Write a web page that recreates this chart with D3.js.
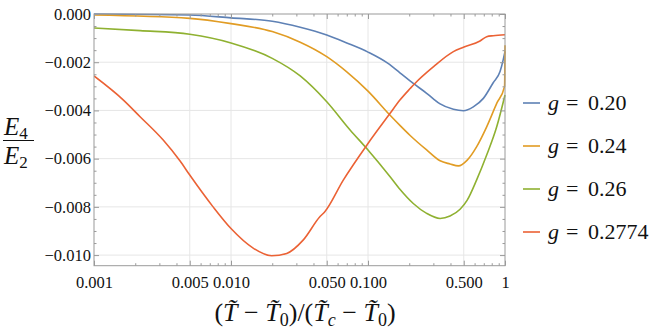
<!DOCTYPE html>
<html>
<head>
<meta charset="utf-8">
<script src="https://cdn.jsdelivr.net/npm/d3@7"></script>
<style>
	body { margin: 0; background: #fff; }
</style>
</head>
<body>
<svg id="chart" width="664" height="335"></svg>
<script>
// values, one x/y pair of arrays per curve
var tG020 = [0.001, 0.005, 0.01, 0.02, 0.032, 0.05, 0.07, 0.1, 0.14, 0.171, 0.214, 0.268, 0.3, 0.336, 0.42, 0.497, 0.587, 0.695, 0.82, 0.92, 0.97, 1.0];
var eG020 = [0, -0.00004, -0.00016, -0.0003, -0.00055, -0.00087, -0.0012, -0.00158, -0.00205, -0.00244, -0.00288, -0.00329, -0.00352, -0.00373, -0.00395, -0.00401, -0.00385, -0.0035, -0.00285, -0.00239, -0.0019, -0.00155];

var tG024 = [0.001, 0.005, 0.01, 0.02, 0.032, 0.05, 0.07, 0.1, 0.145, 0.171, 0.204, 0.268, 0.336, 0.397, 0.457, 0.53, 0.62, 0.735, 0.87, 0.993, 1.0];
var eG024 = [-0.00004, -0.00018, -0.0004, -0.00073, -0.00117, -0.00177, -0.0024, -0.0032, -0.0042, -0.00462, -0.00505, -0.00564, -0.00609, -0.00622, -0.0063, -0.00606, -0.00551, -0.00468, -0.00371, -0.003, -0.0013];

var tG026 = [0.001, 0.00217, 0.005, 0.01, 0.02, 0.032, 0.05, 0.074, 0.1, 0.145, 0.171, 0.214, 0.268, 0.336, 0.397, 0.47, 0.53, 0.62, 0.735, 0.87, 1.0];
var eG026 = [-0.00058, -0.00069, -0.00084, -0.0012, -0.00184, -0.00257, -0.00364, -0.00481, -0.00564, -0.00675, -0.00727, -0.00786, -0.00827, -0.00848, -0.00838, -0.0081, -0.00772, -0.00689, -0.00585, -0.00468, -0.00336];

var tG2774 = [0.001, 0.00164, 0.00217, 0.0032, 0.00425, 0.005, 0.0074, 0.01, 0.0146, 0.0198, 0.0255, 0.0336, 0.0445, 0.0484, 0.066, 0.1, 0.145, 0.171, 0.204, 0.22, 0.3, 0.42, 0.497, 0.657, 0.735, 0.82, 1.0];
var eG2774 = [-0.00257, -0.00357, -0.00426, -0.00523, -0.0061, -0.00668, -0.008, -0.0089, -0.00972, -0.01003, -0.00993, -0.00938, -0.00841, -0.0082, -0.00689, -0.00537, -0.00412, -0.00357, -0.00308, -0.00288, -0.00219, -0.00156, -0.00138, -0.00112, -0.00094, -0.0009, -0.00086];

var gLabels = ["0.20", "0.24", "0.26", "0.2774"];
var lineColors = ["#5e81b5", "#e19c24", "#8fb131", "#eb6235"];

var xTickVals = [0.001, 0.005, 0.01, 0.05, 0.1, 0.5, 1];
var xTickLabels = ["0.001", "0.005", "0.010", "0.050", "0.100", "0.500", "1"];
var yTickVals = [0, -0.002, -0.004, -0.006, -0.008, -0.010];
var yTickLabels = ["0.000", "\u22120.002", "\u22120.004", "\u22120.006", "\u22120.008", "\u22120.010"];

(function () {
	var pLeft = 94, pRight = 505, pTop = 14, pBottom = 265.7;
	var serif = "'Liberation Serif', 'Times New Roman', serif";

	var svg = d3.select("#chart");

	var x = d3.scaleLog().domain([0.001, 1]).range([pLeft, pRight]);
	var y = d3.scaleLinear().domain([-0.01044, 0]).range([pBottom, pTop]);

	// minor ticks: the other integers of each decade, and every 0.0005 on y
	var xMinor = [];
	[0.001, 0.01, 0.1].forEach(function (d) {
		[2, 3, 4, 6, 7, 8, 9].forEach(function (k) { xMinor.push(d * k); });
	});
	var yMinor = d3.range(0, 21).filter(function (i) { return i % 4 !== 0; })
		.map(function (i) { return -i * 0.0005; });

	// grid
	var grid = svg.append("g").attr("stroke", "#e6e6e6").attr("stroke-width", 1);
	grid.selectAll(".vg").data([0.005, 0.01, 0.05, 0.1, 0.5]).enter().append("line")
		.attr("x1", function (d) { return x(d); }).attr("x2", function (d) { return x(d); })
		.attr("y1", pTop).attr("y2", pBottom);
	grid.selectAll(".hg").data(yTickVals.slice(1)).enter().append("line")
		.attr("y1", function (d) { return y(d); }).attr("y2", function (d) { return y(d); })
		.attr("x1", pLeft).attr("x2", pRight);

	// curves
	svg.append("clipPath").attr("id", "plotclip").append("rect")
		.attr("x", pLeft).attr("y", pTop - 2).attr("width", pRight - pLeft + 1).attr("height", pBottom - pTop + 2);

	var series = [[tG020, eG020], [tG024, eG024], [tG026, eG026], [tG2774, eG2774]];
	var line = d3.line()
		.x(function (d) { return x(d[0]); })
		.y(function (d) { return y(d[1]); })
		.curve(d3.curveMonotoneX);

	var curves = svg.append("g").attr("clip-path", "url(#plotclip)");
	series.forEach(function (s, i) {
		curves.append("path")
			.datum(d3.zip(s[0], s[1]))
			.attr("fill", "none")
			.attr("stroke", lineColors[i])
			.attr("stroke-width", 1.6)
			.attr("stroke-linejoin", "round")
			.attr("d", line);
	});

	// frame and ticks
	var tickCol = "#9a9a9a";
	var addAxis = function (axis, tx, ty) {
		var g = svg.append("g").attr("transform", "translate(" + tx + "," + ty + ")").call(axis);
		g.select(".domain").remove();
		g.selectAll(".tick line").attr("stroke", tickCol);
		g.selectAll("text").style("font-family", serif).style("font-size", "16.5px").attr("fill", "#111");
		return g;
	};

	addAxis(d3.axisBottom(x).tickValues(xTickVals).tickSize(-5).tickPadding(11)
		.tickFormat(function (d, i) { return xTickLabels[i]; }), 0, pBottom);
	addAxis(d3.axisBottom(x).tickValues(xMinor).tickSize(-2.5).tickFormat(""), 0, pBottom);
	addAxis(d3.axisTop(x).tickValues(xTickVals).tickSize(-5).tickFormat(""), 0, pTop);
	addAxis(d3.axisTop(x).tickValues(xMinor).tickSize(-2.5).tickFormat(""), 0, pTop);

	addAxis(d3.axisLeft(y).tickValues(yTickVals).tickSize(-5).tickPadding(3)
		.tickFormat(function (d, i) { return yTickLabels[i]; }), pLeft, 0);
	addAxis(d3.axisLeft(y).tickValues(yMinor).tickSize(-2.5).tickFormat(""), pLeft, 0);
	addAxis(d3.axisRight(y).tickValues(yTickVals).tickSize(-5).tickFormat(""), pRight, 0);
	addAxis(d3.axisRight(y).tickValues(yMinor).tickSize(-2.5).tickFormat(""), pRight, 0);

	svg.append("rect")
		.attr("x", pLeft).attr("y", pTop).attr("width", pRight - pLeft).attr("height", pBottom - pTop)
		.attr("fill", "none").attr("stroke", tickCol).attr("stroke-width", 1);

	// y label E4 / E2
	var yl = svg.append("g").style("font-family", serif).style("font-size", "25px").attr("fill", "#111");
	var num = yl.append("text").attr("x", 4).attr("y", 135);
	num.append("tspan").style("font-style", "italic").text("E");
	num.append("tspan").style("font-size", "17px").attr("dy", 4).text("4");
	yl.append("line").attr("x1", 3).attr("x2", 34).attr("y1", 140.5).attr("y2", 140.5)
		.attr("stroke", "#111").attr("stroke-width", 1);
	var den = yl.append("text").attr("x", 4).attr("y", 164);
	den.append("tspan").style("font-style", "italic").text("E");
	den.append("tspan").style("font-size", "17px").attr("dy", 4).text("2");

	// x label
	var xl = svg.append("text").attr("x", 305).attr("y", 321).attr("text-anchor", "middle")
		.style("font-family", serif).style("font-size", "26px").attr("fill", "#111");
	var parts = [
		["(", ""], ["T\u0303", "it"], [" \u2212 ", ""], ["T\u0303", "it"], ["0", "sub"],
		[")/(", ""], ["T\u0303", "it"], ["c", "subit"], [" \u2212 ", ""], ["T\u0303", "it"], ["0", "sub"], [")", ""]
	];
	parts.forEach(function (p, i) {
		var t = xl.append("tspan").text(p[0]);
		var isSub = p[1] === "sub" || p[1] === "subit";
		var prevSub = i > 0 && (parts[i - 1][1] === "sub" || parts[i - 1][1] === "subit");
		if (p[1] === "it" || p[1] === "subit") { t.style("font-style", "italic"); }
		if (isSub) { t.style("font-size", "18px").attr("dy", 5); }
		else if (prevSub) { t.attr("dy", -5); }
	});

	// legend
	var legend = svg.append("g").style("font-family", serif).style("font-size", "22px").attr("fill", "#111");
	gLabels.forEach(function (lab, i) {
		var cy = 103 + i * 43;
		legend.append("line").attr("x1", 523).attr("x2", 540).attr("y1", cy).attr("y2", cy)
			.attr("stroke", lineColors[i]).attr("stroke-width", 1.6);
		legend.append("text").attr("x", 548).attr("y", cy + 7).style("font-style", "italic").text("g");
		legend.append("text").attr("x", 566).attr("y", cy + 7).text("=");
		legend.append("text").attr("x", 588).attr("y", cy + 7).text(lab);
	});
})();
</script>
</body>
</html>
